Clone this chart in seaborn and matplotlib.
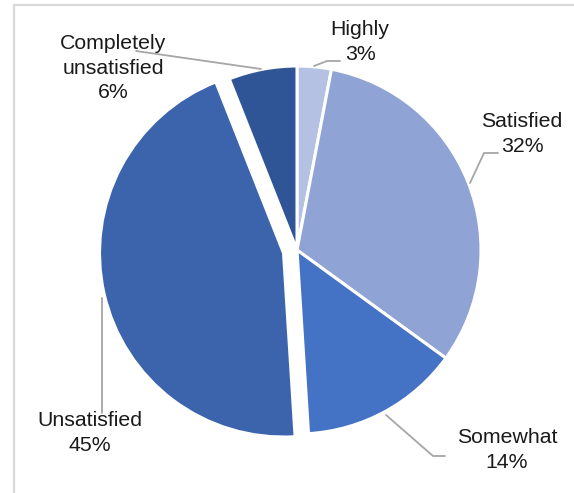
import matplotlib
matplotlib.use("Agg")
import matplotlib.pyplot as plt
import seaborn as sns
from matplotlib.lines import Line2D

# Survey results
categories = ["Highly", "Satisfied", "Somewhat", "Unsatisfied", "Completely\nunsatisfied"]
shares = [3, 32, 14, 45, 6]
palette = ["#b4c1e3", "#8fa3d5", "#4472c4", "#3c64ac", "#2f5597"]
explode = [0, 0, 0, 0.075, 0]

sns.set_theme(style="white")
plt.rcParams["font.family"] = ["Liberation Sans", "DejaVu Sans"]

W, H = 574, 493
fig = plt.figure(figsize=(W / 100, H / 100), dpi=100)
ax = fig.add_axes([0, 0, 1, 1])

# pixel <-> data mapping: pie centre at (297, 250) px, radius 184 px
CX, CY, R = 297, 250, 184


def px(x, y):
    return (x - CX) / R, (CY - y) / R


ax.pie(shares, startangle=90, counterclock=False, explode=explode,
       colors=palette, radius=1,
       wedgeprops=dict(edgecolor="white", linewidth=2.2))
ax.set_aspect("auto")
x0, y0 = px(0, H)
x1, y1 = px(W, 0)
ax.set_xlim(x0, x1)
ax.set_ylim(y0, y1)
ax.axis("off")

# outer chart frame (top and left edges fall inside the canvas)
frame_kw = dict(transform=fig.transFigure, color="#d9d9d9", linewidth=1.6)
fig.add_artist(Line2D([14 / W, 1.0], [1 - 5 / H, 1 - 5 / H], **frame_kw))
fig.add_artist(Line2D([14 / W, 14 / W], [0.0, 1 - 5 / H], **frame_kw))

# label anchors and leader lines (pixel positions)
label_pos = {
    "Highly": (360, 42),
    "Satisfied": (522, 134),
    "Somewhat": (507, 450),
    "Unsatisfied": (90, 433),
    "Completely\nunsatisfied": (113, 68),
}
leaders = {
    "Highly": [(314, 66), (327, 61), (340, 61)],
    "Satisfied": [(470, 183), (484, 153), (498, 153)],
    "Somewhat": [(386, 415), (433, 456), (445, 456)],
    "Unsatisfied": [(102, 298), (102, 413)],
    "Completely\nunsatisfied": [(136, 51), (261, 69)],
}

for cat, val in zip(categories, shares):
    pts = [px(*p) for p in leaders[cat]]
    ax.add_line(Line2D([p[0] for p in pts], [p[1] for p in pts],
                       color="#a6a6a6", linewidth=1.3, zorder=1))
    tx, ty = px(*label_pos[cat])
    ax.text(tx, ty, f"{cat}\n{val}%", ha="center", va="center",
            fontsize=15.3, color="#1a1a1a", linespacing=1.38, zorder=3)

fig.savefig("out.png", dpi=100)
